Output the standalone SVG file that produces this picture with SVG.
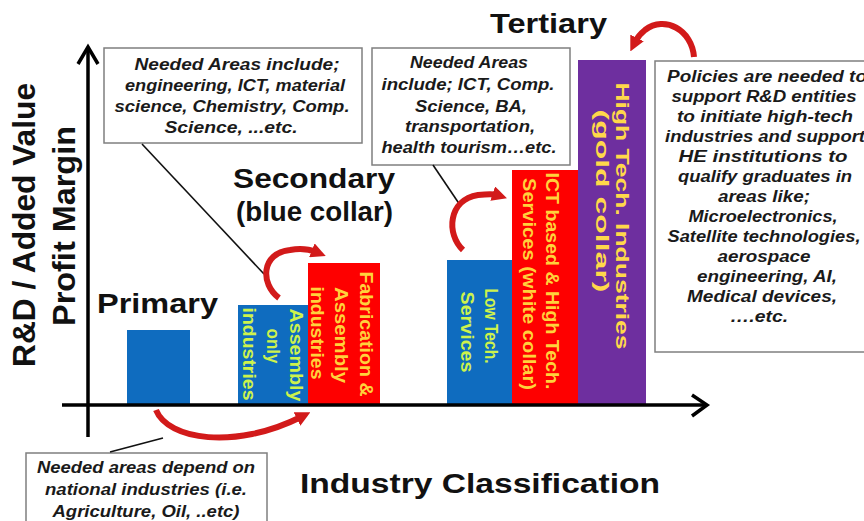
<svg xmlns="http://www.w3.org/2000/svg" width="864" height="521" viewBox="0 0 864 521">
<defs>
<style>
text{font-family:"Liberation Sans",Arial,sans-serif;font-weight:bold}
.big{font-size:28px;fill:#111}
.ylab{font-size:32px;fill:#111}
.note{font-size:16px;font-style:italic;fill:#1a1a1a;text-anchor:middle}
.bt{font-size:18.5px;text-anchor:middle}
.onblue{fill:#cdf24c}
.onred{fill:#ffd23c}
.onpur{fill:#ffd84a}
.box{fill:#fff;stroke:#7f7f7f;stroke-width:1.5}
.axis{stroke:#000;stroke-width:3.5;fill:none}
.lead{stroke:#111;stroke-width:1.6;fill:none}
.red{stroke:#d21a1a;stroke-width:6;fill:none;marker-end:url(#ah)}
</style>
<marker id="ah" viewBox="0 0 10 10" refX="3" refY="5" markerWidth="15" markerHeight="15" markerUnits="userSpaceOnUse" orient="auto">
<path d="M0,0 L10,5 L0,10 z" fill="#d21a1a"/>
</marker>
</defs>
<rect width="864" height="521" fill="#fff"/>

<g id="bar-primary"><rect x="127" y="330" width="63" height="75" fill="#0f6cbf"/></g>
<g id="bar-assembly">
<rect x="238" y="305" width="70" height="100" fill="#0f6cbf"/>
<text class="bt onblue" transform="translate(290,355) rotate(90)" textLength="93" lengthAdjust="spacingAndGlyphs">Assembly</text>
<text class="bt onblue" transform="translate(267,346) rotate(90)" textLength="35" lengthAdjust="spacingAndGlyphs">only</text>
<text class="bt onblue" transform="translate(243,354) rotate(90)" textLength="93" lengthAdjust="spacingAndGlyphs">industries</text>
</g>
<g id="bar-fabrication">
<rect x="308" y="263" width="72" height="142" fill="#fe0000"/>
<text class="bt onred" transform="translate(360,334) rotate(90)" textLength="125" lengthAdjust="spacingAndGlyphs">Fabrication &amp;</text>
<text class="bt onred" transform="translate(335,335) rotate(90)" textLength="96" lengthAdjust="spacingAndGlyphs">Assembly</text>
<text class="bt onred" transform="translate(311,333) rotate(90)" textLength="93" lengthAdjust="spacingAndGlyphs">industries</text>
</g>
<g id="bar-lowtech">
<rect x="447" y="260" width="65" height="145" fill="#0f6cbf"/>
<text class="bt onblue" transform="translate(485,326) rotate(90)" textLength="75" lengthAdjust="spacingAndGlyphs">Low Tech.</text>
<text class="bt onblue" transform="translate(461,332) rotate(90)" textLength="81" lengthAdjust="spacingAndGlyphs">Services</text>
</g>
<g id="bar-ict">
<rect x="512" y="170" width="66" height="235" fill="#fe0000"/>
<text class="bt onred" transform="translate(546,281) rotate(90)" textLength="217" lengthAdjust="spacingAndGlyphs">ICT based &amp; High Tech.</text>
<text class="bt onred" transform="translate(523,284) rotate(90)" textLength="212" lengthAdjust="spacingAndGlyphs">Services (white collar)</text>
</g>
<g id="bar-hightech">
<rect x="578" y="60" width="68" height="345" fill="#6e2f9f"/>
<text class="bt onpur" transform="translate(616,216) rotate(90)" textLength="267" lengthAdjust="spacingAndGlyphs">High Tech. Industries</text>
<text class="bt onpur" transform="translate(596,201) rotate(90)" textLength="183" lengthAdjust="spacingAndGlyphs">(gold collar)</text>
</g>

<g id="axes">
<line class="axis" x1="88" y1="47" x2="88" y2="437"/>
<polyline class="axis" points="78,64 88,47 98,64"/>
<line class="axis" x1="62" y1="405" x2="706" y2="405"/>
<polyline class="axis" points="692,395 707,405 692,416"/>
</g>

<g id="labels">
<text class="ylab" transform="translate(35,225) rotate(-90)" text-anchor="middle" textLength="284" lengthAdjust="spacingAndGlyphs">R&amp;D / Added Value</text>
<text class="ylab" transform="translate(75,226) rotate(-90)" text-anchor="middle" textLength="200" lengthAdjust="spacingAndGlyphs">Profit Margin</text>
<text class="big" x="97" y="313" textLength="121" lengthAdjust="spacingAndGlyphs">Primary</text>
<text class="big" x="233" y="188" textLength="162" lengthAdjust="spacingAndGlyphs">Secondary</text>
<text class="big" x="236" y="221" textLength="157" lengthAdjust="spacingAndGlyphs">(blue collar)</text>
<text class="big" x="490" y="33" textLength="117" lengthAdjust="spacingAndGlyphs">Tertiary</text>
<text class="big" x="300" y="493" textLength="360" lengthAdjust="spacingAndGlyphs">Industry Classification</text>
</g>

<g id="note-secondary">
<rect class="box" x="104" y="48" width="258" height="95"/>
<text class="note" x="237" y="70" textLength="205" lengthAdjust="spacingAndGlyphs">Needed Areas  include;</text>
<text class="note" x="235" y="91" textLength="220" lengthAdjust="spacingAndGlyphs">engineering, ICT, material</text>
<text class="note" x="232" y="112" textLength="235" lengthAdjust="spacingAndGlyphs">science, Chemistry, Comp.</text>
<text class="note" x="231" y="133" textLength="133" lengthAdjust="spacingAndGlyphs">Science, ...etc.</text>
</g>
<g id="note-tertiary">
<rect class="box" x="372" y="48" width="198" height="117"/>
<text class="note" x="469" y="68" textLength="118" lengthAdjust="spacingAndGlyphs">Needed Areas</text>
<text class="note" x="468" y="90" textLength="173" lengthAdjust="spacingAndGlyphs">include; ICT,  Comp.</text>
<text class="note" x="471" y="112" textLength="112" lengthAdjust="spacingAndGlyphs">Science, BA,</text>
<text class="note" x="470" y="132" textLength="130" lengthAdjust="spacingAndGlyphs">transportation,</text>
<text class="note" x="469" y="153" textLength="175" lengthAdjust="spacingAndGlyphs">health tourism…etc.</text>
</g>
<g id="note-policies">
<rect class="box" x="655" y="61" width="230" height="291"/>
<text class="note" x="767" y="82" textLength="200" lengthAdjust="spacingAndGlyphs">Policies are needed to</text>
<text class="note" x="764" y="102" textLength="185" lengthAdjust="spacingAndGlyphs">support R&amp;D entities</text>
<text class="note" x="765" y="122" textLength="176" lengthAdjust="spacingAndGlyphs">to initiate high-tech</text>
<text class="note" x="765" y="142" textLength="200" lengthAdjust="spacingAndGlyphs">industries and support</text>
<text class="note" x="763" y="162" textLength="169" lengthAdjust="spacingAndGlyphs">HE institutions to</text>
<text class="note" x="765" y="182" textLength="174" lengthAdjust="spacingAndGlyphs">qualify graduates in</text>
<text class="note" x="764" y="202" textLength="92" lengthAdjust="spacingAndGlyphs">areas like;</text>
<text class="note" x="763" y="222" textLength="149" lengthAdjust="spacingAndGlyphs">Microelectronics,</text>
<text class="note" x="764" y="242" textLength="193" lengthAdjust="spacingAndGlyphs">Satellite technologies,</text>
<text class="note" x="764" y="262" textLength="93" lengthAdjust="spacingAndGlyphs">aerospace</text>
<text class="note" x="767" y="282" textLength="140" lengthAdjust="spacingAndGlyphs">engineering, AI,</text>
<text class="note" x="762" y="302" textLength="150" lengthAdjust="spacingAndGlyphs">Medical devices,</text>
<text class="note" x="759" y="322" textLength="58" lengthAdjust="spacingAndGlyphs">….etc.</text>
</g>
<g id="note-primary">
<rect class="box" x="26" y="453" width="241" height="80"/>
<text class="note" x="146" y="473" textLength="218" lengthAdjust="spacingAndGlyphs">Needed areas depend on</text>
<text class="note" x="146" y="495" textLength="202" lengthAdjust="spacingAndGlyphs">national industries (i.e.</text>
<text class="note" x="146" y="517" textLength="187" lengthAdjust="spacingAndGlyphs">Agriculture, Oil, ..etc)</text>
</g>

<g id="connectors">
<line class="lead" x1="142" y1="144" x2="264" y2="274"/>
<line class="lead" x1="433" y1="165" x2="460" y2="205"/>
<line class="lead" x1="110" y1="452" x2="163" y2="438"/>
<path class="red" d="M279,298 C260,284 261,253 290,250 C302,248 311,250 316,252"/>
<path class="red" d="M463,250 C446,234 448,200 478,195 C488,194 494,194 497,195"/>
<path class="red" d="M694,57 C692,30 665,15 645,30 C640,34 637,38 635,42"/>
<path class="red" d="M156,410 C168,440 235,450 301,417"/>
</g>
</svg>
